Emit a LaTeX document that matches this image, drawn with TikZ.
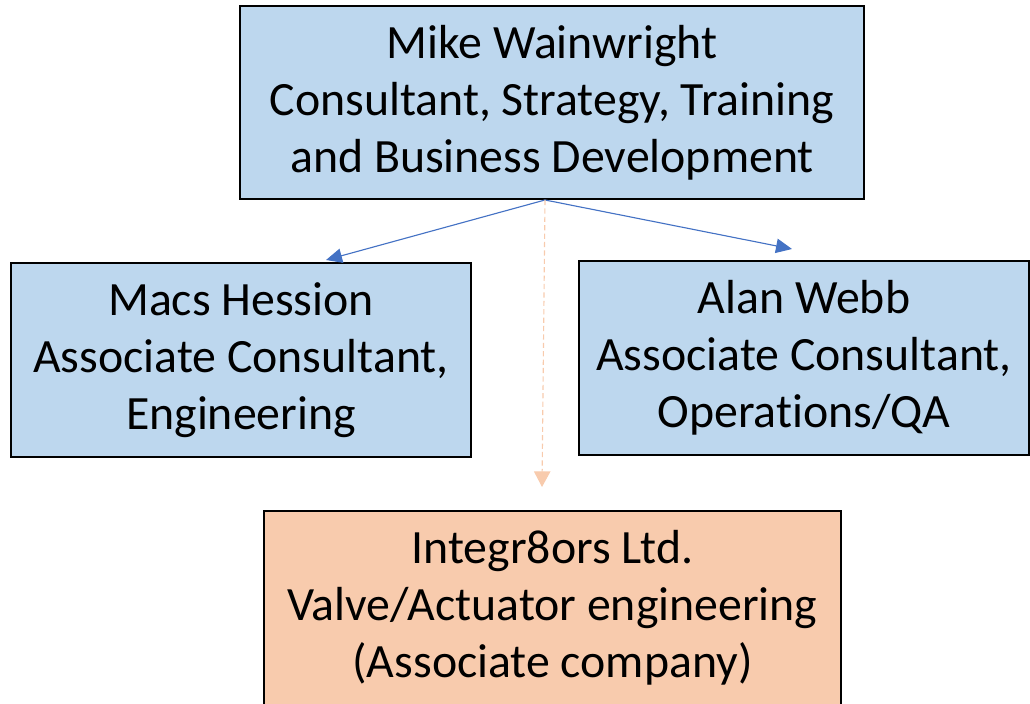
\documentclass[tikz,border=0pt]{standalone}
\usepackage{fontspec}
\setmainfont{Carlito}[Ligatures=NoCommon]
\usetikzlibrary{arrows.meta}
\definecolor{staffblue}{HTML}{BDD7EE}
\definecolor{assocorange}{HTML}{F8CBAD}
\definecolor{linkblue}{HTML}{4472C4}
\begin{document}
\begin{tikzpicture}[
  >={Triangle[length=4mm,width=3.6mm]},
  person/.style={draw=black,line width=1.4pt,fill=staffblue,align=center,
    inner sep=0pt,font=\fontsize{34}{40.5}\selectfont},
  company/.style={person,fill=assocorange},
  report/.style={->,linkblue,line width=0.8pt},
  associate/.style={-{Triangle[length=3.9mm,width=4.1mm]},assocorange,line width=0.8pt,
    dash pattern=on 1.3mm off 0.8mm}]
  \useasboundingbox (0,0) rectangle (25.75,-17.575);

  % people
  \node[person,minimum width=15.6cm,minimum height=4.825cm] (mike) at (13.8,-2.5625)
    {Mike Wainwright\\Consultant, Strategy, Training\\and Business Development};
  \node[person,minimum width=11.5cm,minimum height=4.85cm] (macs) at (6.025,-9.0)
    {Macs Hession\\Associate Consultant,\\Engineering};
  \node[person,minimum width=11.25cm,minimum height=4.85cm] (alan) at (20.1,-8.95)
    {Alan Webb\\Associate Consultant,\\Operations/QA};
  % associate company
  \node[company,minimum width=14.425cm,minimum height=4.85cm] (integr8ors) at (13.8125,-15.2)
    {Integr8ors Ltd.\\Valve/Actuator engineering\\(Associate company)};

  % links
  \coordinate (fork) at ([xshift=-0.175cm]mike.south);
  \coordinate (macstip) at (8.15,-6.5);
  \coordinate (alantip) at (19.8,-6.225);
  \coordinate (integtip) at (13.55,-12.175);
  \draw[report] (fork) -- (macstip);
  \draw[report] (fork) -- (alantip);
  \draw[associate] (fork) -- (integtip);
\end{tikzpicture}
\end{document}
